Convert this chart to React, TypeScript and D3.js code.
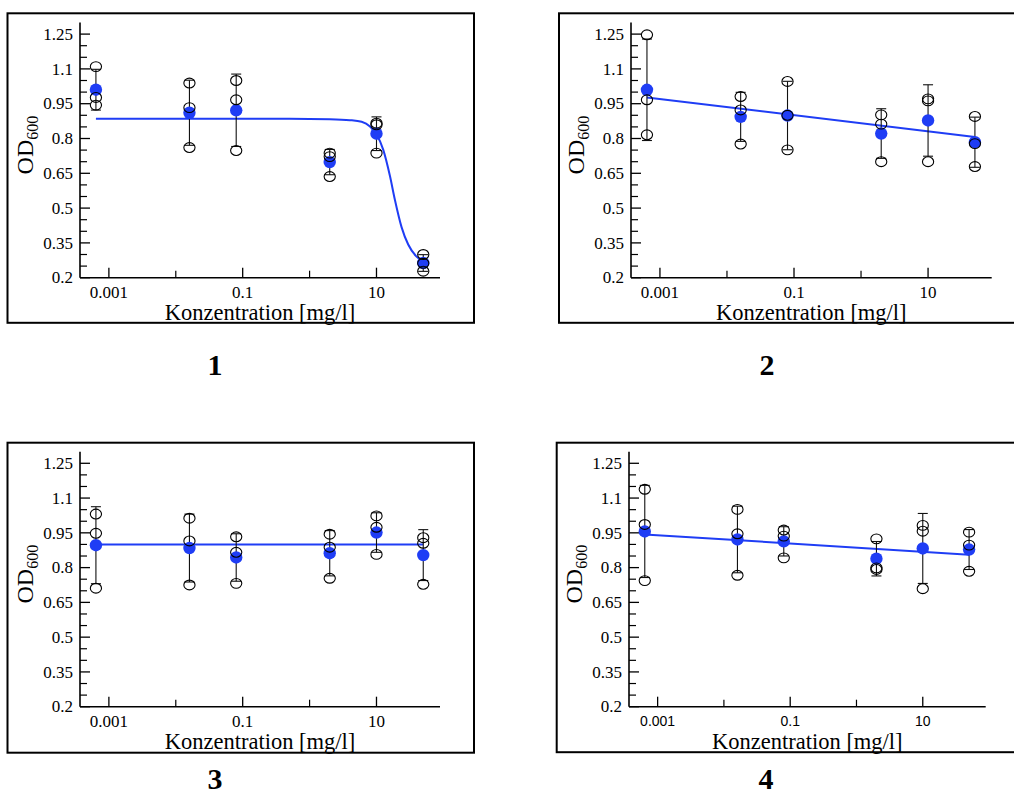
import React from "react";
import * as d3 from "d3";

// ---------- data ----------
const CONC = [0.00064, 0.016, 0.08, 2, 10, 50];

const X_TICKS = [0.001, 0.1, 10];
const X_TICK_LABELS = ["0.001", "0.1", "10"];
const X_MINOR = [0.01, 1];

const Y_TICKS = [0.2, 0.35, 0.5, 0.65, 0.8, 0.95, 1.1, 1.25];
const Y_TICK_LABELS = ["0.2", "0.35", "0.5", "0.65", "0.8", "0.95", "1.1", "1.25"];
const Y_MINOR = [0.25, 0.3, 0.4, 0.45, 0.55, 0.6, 0.7, 0.75, 0.85, 0.9, 1.0, 1.05, 1.15, 1.2];

// replicate OD600 readings (3 per concentration)
const REPS_1 = [
  [1.11, 0.977, 0.944],
  [1.039, 0.933, 0.761],
  [1.05, 0.967, 0.748],
  [0.737, 0.722, 0.636],
  [0.866, 0.859, 0.737],
  [0.3, 0.262, 0.228],
];
const REPS_2 = [
  [1.247, 0.967, 0.816],
  [0.981, 0.923, 0.776],
  [1.046, 0.9, 0.751],
  [0.902, 0.862, 0.7],
  [0.971, 0.962, 0.7],
  [0.895, 0.778, 0.679],
];
const REPS_3 = [
  [1.031, 0.948, 0.711],
  [1.013, 0.915, 0.725],
  [0.933, 0.866, 0.732],
  [0.944, 0.888, 0.754],
  [1.023, 0.974, 0.857],
  [0.929, 0.905, 0.728],
];
const REPS_4 = [
  [1.138, 0.986, 0.744],
  [1.051, 0.946, 0.767],
  [0.962, 0.936, 0.842],
  [0.924, 0.799, 0.792],
  [0.982, 0.957, 0.709],
  [0.953, 0.897, 0.784],
];

// fitted curves: [concentration, OD600]
const FIT_1 = [
  [0.00064, 0.885], [0.5, 0.885], [2, 0.883], [4, 0.879], [6, 0.872], [8, 0.852],
  [10, 0.818], [12.6, 0.752], [15.9, 0.638], [18.8, 0.537], [23.7, 0.418],
  [29.8, 0.343], [39.7, 0.291], [50, 0.27],
];
const FIT_2 = [[0.00064, 0.977], [50, 0.806]];
const FIT_3 = [[0.00064, 0.9], [50, 0.9]];
const FIT_4 = [[0.00064, 0.943], [50, 0.856]];

const PANEL_LABELS = ["1", "2", "3", "4"];

// ---------- layout ----------
const W = 1014;
const H = 796;
const BLUE = "#1f3df5";
const SERIF = "'Liberation Serif', 'Times New Roman', serif";
const SANS = "'Liberation Sans', Arial, sans-serif";

const LAYOUT = [
  { frame: [7.5, 13.3, 466.5, 309.5], left: 80, right: 440, top: 22.5, bottom: 277.7, sansX: false, lx: 215, ly: 375 },
  { frame: [559, 13.3, 466.5, 309.5], left: 631, right: 991.7, top: 22.5, bottom: 277.7, sansX: false, lx: 767, ly: 375 },
  { frame: [7.5, 442.7, 466.5, 310], left: 80, right: 440, top: 451.7, bottom: 706.7, sansX: false, lx: 215, ly: 789 },
  { frame: [556.7, 442.7, 466.5, 309.5], left: 629, right: 985.7, top: 451.7, bottom: 706.7, sansX: true, lx: 766, ly: 789 },
];

const PANEL_DATA = [
  { reps: REPS_1, fit: FIT_1 },
  { reps: REPS_2, fit: FIT_2 },
  { reps: REPS_3, fit: FIT_3 },
  { reps: REPS_4, fit: FIT_4 },
];

function Panel({ idx }: { idx: number }) {
  const L = LAYOUT[idx];
  const D = PANEL_DATA[idx];
  const x = d3.scaleLog().domain([0.00037, 89]).range([L.left, L.right]);
  const y = d3.scaleLinear().domain([0.2, 1.3]).range([L.bottom, L.top]);
  const line = d3
    .line<number[]>()
    .x((d) => x(d[0]))
    .y((d) => y(d[1]))
    .curve(d3.curveMonotoneX);

  const stats = D.reps.map((r, i) => ({
    c: CONC[i],
    mean: d3.mean(r) as number,
    sd: d3.deviation(r) as number,
    reps: r,
  }));

  const [fx, fy, fw, fh] = L.frame;
  const cy = (L.top + L.bottom) / 2 - 5;

  return (
    <g>
      <rect x={fx} y={fy} width={fw} height={fh} fill="none" stroke="#000" strokeWidth={2} />
      {/* axes */}
      <line x1={L.left} x2={L.left} y1={L.bottom} y2={L.top} stroke="#000" strokeWidth={1.6} />
      <line x1={L.left} x2={L.right} y1={L.bottom} y2={L.bottom} stroke="#000" strokeWidth={1.6} />
      {Y_TICKS.map((t, i) => (
        <g key={"yt" + i}>
          <line x1={L.left} x2={L.left + 10} y1={y(t)} y2={y(t)} stroke="#000" strokeWidth={1.3} />
          <text x={L.left - 7} y={y(t)} dy="0.34em" textAnchor="end" fontFamily={SERIF} fontSize={17}>
            {Y_TICK_LABELS[i]}
          </text>
        </g>
      ))}
      {Y_MINOR.map((t, i) => (
        <line key={"ym" + i} x1={L.left} x2={L.left + 7} y1={y(t)} y2={y(t)} stroke="#000" strokeWidth={1.2} />
      ))}
      {X_TICKS.map((t, i) => (
        <g key={"xt" + i}>
          <line x1={x(t)} x2={x(t)} y1={L.bottom} y2={L.bottom - 10} stroke="#000" strokeWidth={1.3} />
          <text
            x={x(t)}
            y={L.bottom + (L.sansX ? 19.5 : 20)}
            textAnchor="middle"
            fontFamily={L.sansX ? SANS : SERIF}
            fontSize={L.sansX ? 14 : 17}
          >
            {X_TICK_LABELS[i]}
          </text>
        </g>
      ))}
      {X_MINOR.map((t, i) => (
        <line key={"xm" + i} x1={x(t)} x2={x(t)} y1={L.bottom} y2={L.bottom - 7} stroke="#000" strokeWidth={1.2} />
      ))}
      <text x={(L.left + L.right) / 2} y={L.bottom + 42} textAnchor="middle" fontFamily={SERIF} fontSize={22.5}>
        Konzentration [mg/l]
      </text>
      <text
        transform={`translate(${L.left - 47},${cy}) rotate(-90)`}
        textAnchor="middle"
        fontFamily={SERIF}
        fontSize={24}
      >
        OD
        <tspan fontSize={16} dy={5}>
          600
        </tspan>
      </text>

      {/* fit */}
      <path d={line(D.fit) || ""} fill="none" stroke={BLUE} strokeWidth={2} />

      {/* error bars */}
      {stats.map((s, i) => {
        const px = x(s.c);
        const y0 = y(s.mean - s.sd);
        const y1 = y(s.mean + s.sd);
        return (
          <g key={"eb" + i} stroke="#111" strokeWidth={1.1}>
            <line x1={px} x2={px} y1={y0} y2={y1} />
            <line x1={px - 5} x2={px + 5} y1={y0} y2={y0} />
            <line x1={px - 5} x2={px + 5} y1={y1} y2={y1} />
          </g>
        );
      })}
      {/* means */}
      {stats.map((s, i) => (
        <circle key={"m" + i} cx={x(s.c)} cy={y(s.mean)} r={6.2} fill={BLUE} />
      ))}
      {/* replicates */}
      {stats.map((s, i) =>
        s.reps.map((v, j) => (
          <ellipse
            key={"r" + i + "_" + j}
            cx={x(s.c)}
            cy={y(v)}
            rx={5.6}
            ry={4.9}
            fill="none"
            stroke="#000"
            strokeWidth={1.1}
          />
        ))
      )}

      <text x={L.lx} y={L.ly} textAnchor="middle" fontFamily={SERIF} fontWeight="bold" fontSize={30}>
        {PANEL_LABELS[idx]}
      </text>
    </g>
  );
}

export default function App() {
  return (
    <svg
      width={W}
      height={H}
      style={{ position: "absolute", left: 0, top: 0, background: "#fff" }}
      xmlns="http://www.w3.org/2000/svg"
    >
      <rect x={0} y={0} width={W} height={H} fill="#fff" />
      {LAYOUT.map((_, i) => (
        <Panel key={i} idx={i} />
      ))}
    </svg>
  );
}
